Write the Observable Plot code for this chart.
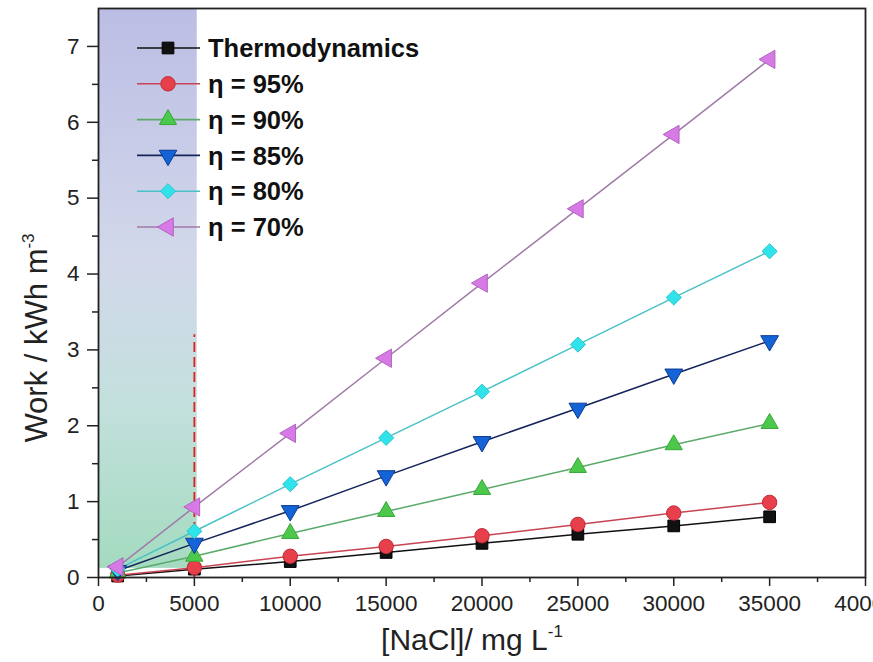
<!DOCTYPE html>
<html>
<head>
<meta charset="utf-8">
<script src="https://cdn.jsdelivr.net/npm/d3@7"></script>
<script src="https://cdn.jsdelivr.net/npm/@observablehq/plot@0.6"></script>
<style>
  html, body { margin: 0; padding: 0; background: #fff; overflow: hidden; }
  #wrap { position: relative; width: 873px; height: 662px; overflow: hidden; }
  #wrap svg { position: absolute; left: 0; top: 0; }
</style>
</head>
<body>
<div id="wrap"></div>
<script>
// ---- data ----
const concentration = [1000, 5000, 10000, 15000, 20000, 25000, 30000, 35000];
const thermodynamics = [0.02, 0.11, 0.21, 0.33, 0.45, 0.57, 0.68, 0.80];
const eta95 = [0.03, 0.13, 0.28, 0.41, 0.55, 0.70, 0.85, 0.99];
const eta90 = [0.06, 0.28, 0.58, 0.87, 1.16, 1.45, 1.75, 2.03];
const eta85 = [0.09, 0.45, 0.88, 1.34, 1.79, 2.23, 2.68, 3.12];
const eta80 = [0.11, 0.61, 1.23, 1.84, 2.45, 3.07, 3.69, 4.30];
const eta70 = [0.14, 0.93, 1.90, 2.89, 3.88, 4.86, 5.84, 6.83];
const seriesNames = ["Thermodynamics", "η = 95%", "η = 90%", "η = 85%", "η = 80%", "η = 70%"];
const xTicks = [0, 5000, 10000, 15000, 20000, 25000, 30000, 35000, 40000];
const xMinorTicks = [2500, 7500, 12500, 17500, 22500, 27500, 32500, 37500];
const yTicks = [0, 1, 2, 3, 4, 5, 6, 7];
const yMinorTicks = [0.5, 1.5, 2.5, 3.5, 4.5, 5.5, 6.5];
const shadeRegion = [{x1: 0, x2: 5150, y1: 0.12, y2: 7.5}];
const guideLine = [{x: 5000, y1: 0, y2: 3.2}];

// ---- custom symbols ----
const triDown = {draw(ctx, size) {
  const s = Math.sqrt(size * 4 / Math.sqrt(3)), h = s * Math.sqrt(3) / 2;
  ctx.moveTo(0, 2 * h / 3); ctx.lineTo(-s / 2, -h / 3); ctx.lineTo(s / 2, -h / 3); ctx.closePath();
}};
const triLeft = {draw(ctx, size) {
  const s = Math.sqrt(size * 4 / Math.sqrt(3)), h = s * Math.sqrt(3) / 2;
  ctx.moveTo(-2 * h / 3, 0); ctx.lineTo(h / 3, -s / 2); ctx.lineTo(h / 3, s / 2); ctx.closePath();
}};

const styles = [
  {line: "#111111", fill: "#111111", stroke: "#000000", symbol: "square", r: 6.6},
  {line: "#c84452", fill: "#e8404a", stroke: "#c02838", symbol: "circle", r: 7.2},
  {line: "#5aaa6a", fill: "#4cc84c", stroke: "#38a838", symbol: "triangle", r: 6.4},
  {line: "#15245c", fill: "#1464d8", stroke: "#0c3a90", symbol: triDown, r: 6.6},
  {line: "#48c2c6", fill: "#30e2ea", stroke: "#30c4cc", symbol: "diamond2", r: 6.8},
  {line: "#a07aa8", fill: "#d87ae6", stroke: "#b062c0", symbol: triLeft, r: 6.8}
];
const values = [thermodynamics, eta95, eta90, eta85, eta80, eta70];
const series = seriesNames.map((name, i) => ({
  name, style: styles[i],
  data: concentration.map((c, j) => ({x: c, y: values[i][j]}))
}));

const font = "'Liberation Sans', Arial, sans-serif";

const marks = [
  Plot.rect(shadeRegion, {x1: "x1", x2: "x2", y1: "y1", y2: "y2", fill: "url(#shade)"}),
  Plot.ruleX(guideLine, {x: "x", y1: "y1", y2: "y2", stroke: "#e02020", strokeWidth: 1.8, strokeDasharray: "10,5"}),
];
for (const s of series) {
  marks.push(Plot.line(s.data, {x: "x", y: "y", stroke: s.style.line, strokeWidth: 1.5}));
}
for (const s of series) {
  marks.push(Plot.dot(s.data, {x: "x", y: "y", symbol: () => s.style.symbol, r: s.style.r,
    fill: s.style.fill, stroke: s.style.stroke, strokeWidth: 1, fillOpacity: 1}));
}
marks.push(
  Plot.axisX({ticks: xTicks, tickSize: 9, tickPadding: 9, tickFormat: d3.format("d"), fontSize: 22.5, label: null, stroke: "#222", strokeWidth: 1.5}),
  Plot.axisX({ticks: xMinorTicks, tickSize: 5, tickFormat: () => "", label: null, stroke: "#222", strokeWidth: 1.5}),
  Plot.axisY({ticks: yTicks, tickSize: 11, tickPadding: 8, tickFormat: d3.format("d"), fontSize: 22.5, label: null, stroke: "#222", strokeWidth: 1.5}),
  Plot.axisY({ticks: yMinorTicks, tickSize: 6, tickFormat: () => "", label: null, stroke: "#222", strokeWidth: 1.5}),
  Plot.frame({stroke: "#222", strokeWidth: 1.8})
);

const chart = Plot.plot({
  width: 873, height: 662,
  marginLeft: 98, marginRight: 8, marginTop: 8, marginBottom: 85,
  style: {fontFamily: font, color: "#222", background: "transparent"},
  x: {domain: [0, 40000]},
  y: {domain: [0, 7.5]},
  marks
});
document.getElementById("wrap").appendChild(chart);

// gradient definition for the shaded region
const defs = d3.select(chart).insert("defs", ":first-child");
const g = defs.append("linearGradient").attr("id", "shade").attr("x1", 0).attr("y1", 0).attr("x2", 0).attr("y2", 1);
[["0%", "#bcbde4"], ["45%", "#d2d8ea"], ["72%", "#c2e0dc"], ["100%", "#a4dbc0"]].forEach(([o, c]) =>
  g.append("stop").attr("offset", o).attr("stop-color", c));

// ---- overlay: legend and axis titles ----
const ov = d3.select("#wrap").append("svg").attr("width", 873).attr("height", 662)
  .style("font-family", font).style("pointer-events", "none");

const legend = ov.append("g");
series.forEach((s, i) => {
  const y = 48 + i * 35.8;
  legend.append("line").attr("x1", 137).attr("x2", 200).attr("y1", y).attr("y2", y)
    .attr("stroke", s.style.line).attr("stroke-width", 1.6);
  const sym = typeof s.style.symbol === "string"
    ? {square: d3.symbolSquare, circle: d3.symbolCircle, triangle: d3.symbolTriangle, diamond2: d3.symbolDiamond2}[s.style.symbol]
    : s.style.symbol;
  legend.append("path").attr("transform", `translate(168,${y})`)
    .attr("d", d3.symbol(sym, s.style.r * s.style.r * Math.PI)())
    .attr("fill", s.style.fill).attr("stroke", s.style.stroke).attr("stroke-width", 1);
  legend.append("text").attr("x", 208).attr("y", y).attr("dy", "0.36em")
    .attr("font-size", 25.5).attr("font-weight", "bold").attr("fill", "#111").text(s.name);
});

// x axis title
const xt = ov.append("text").attr("x", 472).attr("y", 650).attr("text-anchor", "middle")
  .attr("font-size", 30).attr("fill", "#222");
xt.append("tspan").text("[NaCl]/ mg L");
xt.append("tspan").attr("dy", -13).attr("font-size", 17).text("-1");

// y axis title
const yt = ov.append("text").attr("transform", "translate(47,338) rotate(-90)").attr("text-anchor", "middle")
  .attr("font-size", 31).attr("fill", "#222");
yt.append("tspan").text("Work / kWh m");
yt.append("tspan").attr("dy", -13).attr("font-size", 17).text("-3");
</script>
</body>
</html>
